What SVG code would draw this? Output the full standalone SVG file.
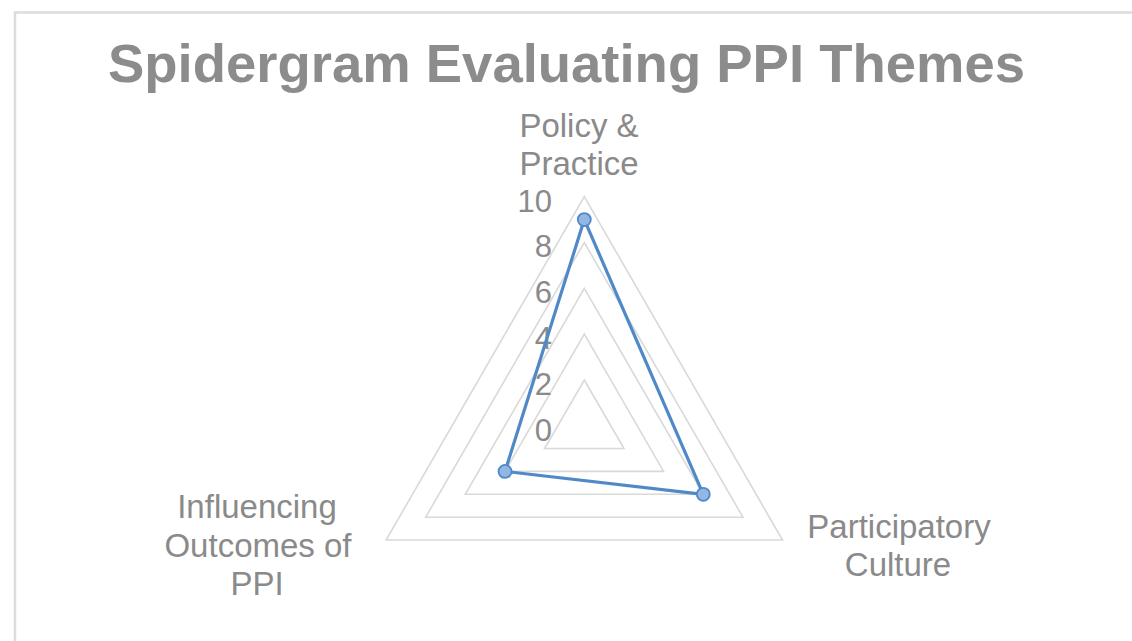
<svg xmlns="http://www.w3.org/2000/svg" width="1132" height="641" viewBox="0 0 1132 641">
  <style>
    .lbl { font-family: "Liberation Sans", Arial, sans-serif; font-size: 33px; fill: #8a8a8a; text-anchor: middle; }
    .tick { font-family: "Liberation Sans", Arial, sans-serif; font-size: 31px; fill: #8a8a8a; text-anchor: end; }
    .title { font-family: "Liberation Sans", Arial, sans-serif; font-size: 53px; font-weight: bold; fill: #8c8c8c; text-anchor: middle; }
    .grid { fill: none; stroke: #d9d9d9; stroke-width: 1.6; }
    .series { fill: none; stroke: #5089c8; stroke-width: 3.2; stroke-linejoin: round; }
    .pt { fill: #92b7e3; stroke: #5089c8; stroke-width: 1.8; }
  </style>
  <rect x="0" y="0" width="1132" height="641" fill="#ffffff"/>
  <rect id="frame" x="15" y="12.5" width="1200" height="700" fill="#ffffff" stroke="#dcdcdc" stroke-width="2.5"/>

  <g id="title">
    <text class="title" x="566.5" y="82" textLength="917" lengthAdjust="spacingAndGlyphs">Spidergram Evaluating PPI Themes</text>
  </g>

  <g id="grid">
    <polygon class="grid" points="584.3,380 624,448.5 544.6,448.5"/>
    <polygon class="grid" points="584.3,334.1 663.6,471.4 505,471.4"/>
    <polygon class="grid" points="584.3,288.3 703.3,494.3 465.3,494.3"/>
    <polygon class="grid" points="584.3,242.5 742.9,517.2 425.7,517.2"/>
    <polygon class="grid" points="584.3,196.7 782.5,540 386.1,540"/>
  </g>

  <g id="ticks">
    <text class="tick" x="552" y="211.5">10</text>
    <text class="tick" x="552" y="257.3">8</text>
    <text class="tick" x="552" y="303.1">6</text>
    <text class="tick" x="552" y="348.9">4</text>
    <text class="tick" x="552" y="394.7">2</text>
    <text class="tick" x="552" y="440.5">0</text>
  </g>

  <g id="connectors">
    <polygon class="series" points="584.3,219.6 703.3,494.3 505,471.4"/>
  </g>

  <g id="node-policy">
    <circle class="pt" cx="584.3" cy="219.6" r="6.5"/>
    <text class="lbl" x="579" y="137">Policy &amp;</text>
    <text class="lbl" x="579" y="175">Practice</text>
  </g>
  <g id="node-participatory">
    <circle class="pt" cx="703.3" cy="494.3" r="6.5"/>
    <text class="lbl" x="899" y="538">Participatory</text>
    <text class="lbl" x="898" y="576">Culture</text>
  </g>
  <g id="node-influencing">
    <circle class="pt" cx="505" cy="471.4" r="6.5"/>
    <text class="lbl" x="257" y="518">Influencing</text>
    <text class="lbl" x="258" y="556.5">Outcomes of</text>
    <text class="lbl" x="257" y="595">PPI</text>
  </g>
</svg>
